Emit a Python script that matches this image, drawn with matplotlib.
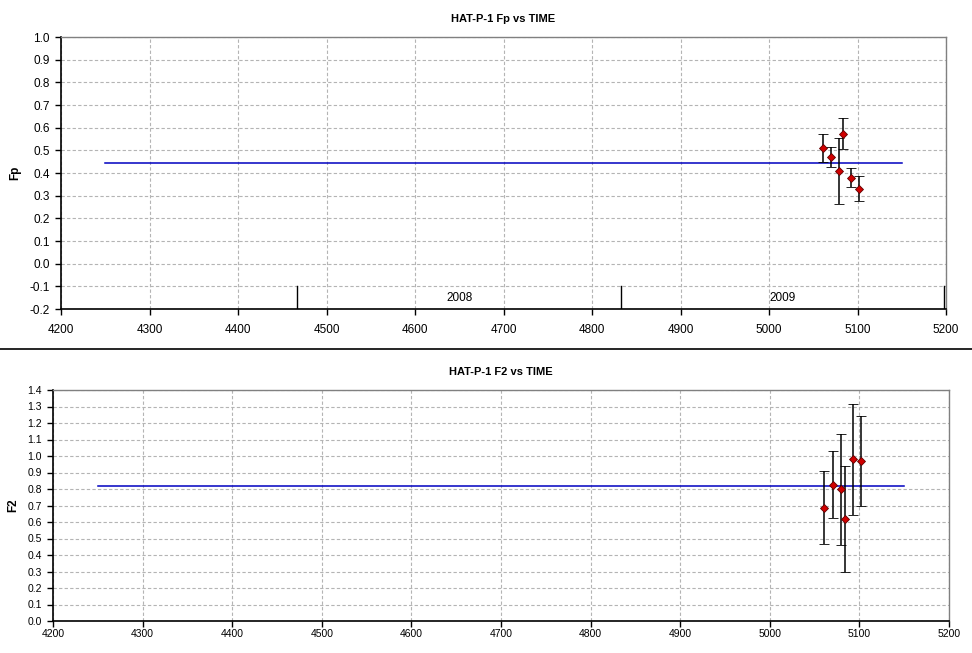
import numpy as np
import matplotlib.pyplot as plt

plt.rcParams['font.family'] = ['Liberation Sans', 'DejaVu Sans']

# Fp panel data (JD - 2450000)
fp_time = [5061, 5070, 5079, 5084, 5093, 5102]
fp_val = [0.512, 0.472, 0.410, 0.573, 0.379, 0.331]
fp_err = [0.062, 0.044, 0.145, 0.068, 0.042, 0.054]
fp_mean = 0.442

# F2 panel data
f2_time = [5061, 5070, 5079, 5084, 5093, 5102]
f2_val = [0.687, 0.827, 0.797, 0.620, 0.980, 0.968]
f2_err = [0.220, 0.203, 0.339, 0.320, 0.335, 0.272]
f2_mean = 0.817

mean_span = [4250, 5150]

# year boundaries
year_edges = [4467, 4833, 5198]
year_labels = ['2008', '2009']

W, H = 972, 653
fig = plt.figure(figsize=(W / 100, H / 100), dpi=100)


def axes_px(left, top, right, bottom):
    return fig.add_axes([left / W, 1 - bottom / H, (right - left) / W, (bottom - top) / H])


def style(ax, ymin, ymax, title, ylabel, xpad, size):
    ax.set_xlim(4200, 5200)
    ax.set_ylim(ymin, ymax)
    ax.set_xticks(np.arange(4200, 5201, 100))
    ax.set_yticks(np.round(np.arange(ymin, ymax + 0.001, 0.1), 1))
    ax.yaxis.set_major_formatter(plt.FormatStrFormatter('%.1f'))
    ax.grid(True, color='#b4b4b4', linestyle=(0, (3, 2)), linewidth=0.8)
    ax.set_axisbelow(True)
    for s in ['top', 'right']:
        ax.spines[s].set_color('#808080')
        ax.spines[s].set_linewidth(1.0)
    for s in ['left', 'bottom']:
        ax.spines[s].set_color('black')
        ax.spines[s].set_linewidth(1.2)
    ax.tick_params(direction='out', length=4, width=1, labelsize=size)
    ax.tick_params(axis='y', pad=4)
    ax.tick_params(axis='x', pad=xpad)
    ax.set_title(title, fontsize=8, fontweight='bold', pad=11)
    ax.set_ylabel(ylabel, fontsize=8.5, fontweight='bold', labelpad=6)


def draw(ax, t, v, e, mean):
    ax.plot(mean_span, [mean, mean], color='#0000c0', linewidth=1.1, zorder=2)
    ax.errorbar(t, v, yerr=e, fmt='D', color='black', ecolor='black',
                elinewidth=1.1, capsize=3.5, capthick=1.1,
                markerfacecolor='#d00000', markeredgecolor='#600000',
                markersize=4.3, markeredgewidth=0.6, zorder=3)


ax1 = axes_px(61, 37, 946, 309)
style(ax1, -0.2, 1.0, 'HAT-P-1 Fp vs TIME', 'Fp', 7, 8.5)
draw(ax1, fp_time, fp_val, fp_err, fp_mean)
for x in year_edges:
    ax1.plot([x, x], [-0.2, -0.1], color='black', linewidth=1, zorder=2)
for i, lab in enumerate(year_labels):
    ax1.text((year_edges[i] + year_edges[i + 1]) / 2, -0.15, lab,
             ha='center', va='center', fontsize=8.5)

ax2 = axes_px(53, 390, 949, 621)
style(ax2, 0.0, 1.4, 'HAT-P-1 F2 vs TIME', 'F2', 2, 7.5)
draw(ax2, f2_time, f2_val, f2_err, f2_mean)

fig.add_artist(plt.Line2D([0, 1], [1 - 349 / H, 1 - 349 / H], color='black', linewidth=1.2))

fig.savefig('out.png', dpi=100)
